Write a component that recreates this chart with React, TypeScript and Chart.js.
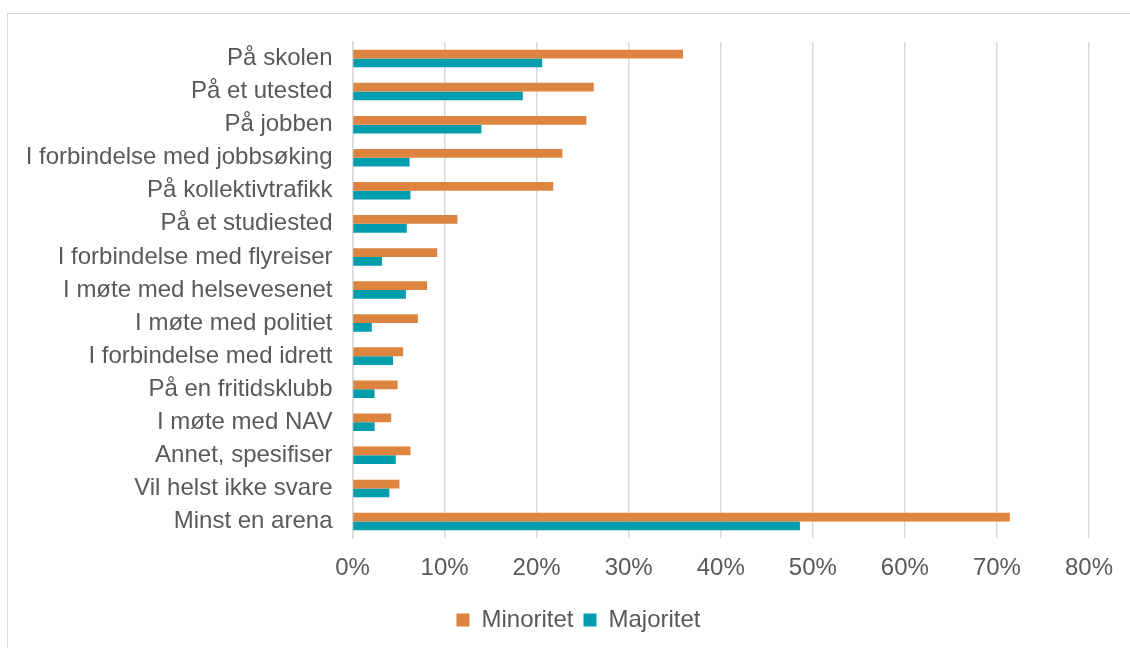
import React, { useEffect, useRef } from "react";
import { Chart, registerables } from "chart.js";

Chart.register(...registerables);

const categories = [
  "På skolen",
  "På et utested",
  "På jobben",
  "I forbindelse med jobbsøking",
  "På kollektivtrafikk",
  "På et studiested",
  "I forbindelse med flyreiser",
  "I møte med helsevesenet",
  "I møte med politiet",
  "I forbindelse med idrett",
  "På en fritidsklubb",
  "I møte med NAV",
  "Annet, spesifiser",
  "Vil helst ikke svare",
  "Minst en arena",
];

const minoritet = [35.9, 26.2, 25.4, 22.8, 21.8, 11.4, 9.2, 8.1, 7.1, 5.5, 4.9, 4.2, 6.3, 5.1, 71.4];
const majoritet = [20.6, 18.5, 14.0, 6.2, 6.3, 5.9, 3.2, 5.8, 2.1, 4.4, 2.4, 2.4, 4.7, 4.0, 48.6];

const xTicks = [0, 10, 20, 30, 40, 50, 60, 70, 80];

const ORANGE = "#DD8440";
const TEAL = "#009DAC";
const FONT = "'Liberation Sans', Arial, sans-serif";

const legendShift = {
  id: "legendShift",
  afterLayout(chart: any) {
    const lg = chart.legend;
    if (lg) {
      lg.left += 34;
      lg.right += 34;
    }
  },
};

export default function App() {
  const ref = useRef<HTMLCanvasElement | null>(null);

  useEffect(() => {
    if (!ref.current) return;
    const chart = new Chart(ref.current, {
      type: "bar",
      data: {
        labels: categories,
        datasets: [
          {
            label: "Minoritet",
            data: minoritet,
            backgroundColor: ORANGE,
            categoryPercentage: 0.53,
            barPercentage: 1.0,
          },
          {
            label: "Majoritet",
            data: majoritet,
            backgroundColor: TEAL,
            categoryPercentage: 0.53,
            barPercentage: 1.0,
          },
        ],
      },
      options: {
        indexAxis: "y",
        animation: false,
        responsive: false,
        maintainAspectRatio: false,
        layout: { padding: { top: 42, right: 41, bottom: 6, left: 0 } },
        scales: {
          x: {
            min: 0,
            max: 80,
            afterBuildTicks: (scale: any) => {
              scale.ticks = xTicks.map((v) => ({ value: v }));
            },
            afterFit: (scale: any) => {
              scale.height = 60;
            },
            ticks: {
              callback: (v: any) => v + "%",
              color: "#595959",
              font: { family: FONT, size: 24 },
              padding: 16,
              maxRotation: 0,
            },
            grid: {
              color: "#d9d9d9",
              lineWidth: 1.5,
              drawTicks: false,
              tickLength: 0,
            },
            border: { display: false },
          },
          y: {
            afterFit: (scale: any) => {
              scale.width = 352.5;
            },
            ticks: {
              color: "#595959",
              font: { family: FONT, size: 24 },
              padding: 20,
              autoSkip: false,
            },
            grid: { display: false, drawTicks: false, tickLength: 0 },
            border: { display: true, color: "#d9d9d9", width: 1.5 },
          },
        },
        plugins: {
          legend: {
            position: "bottom",
            labels: {
              color: "#595959",
              font: { family: FONT, size: 24 },
              boxWidth: 13,
              boxHeight: 13,
              padding: 10,
            },
          },
          tooltip: { enabled: false },
        },
      },
      plugins: [legendShift],
    });
    return () => chart.destroy();
  }, []);

  return (
    <div style={{ position: "absolute", left: 0, top: 0, width: 1130, height: 648, overflow: "hidden", background: "#fff" }}>
      <div
        style={{
          position: "absolute",
          left: 7,
          top: 13,
          width: 1140,
          height: 660,
          border: "1px solid #d9d9d9",
          boxSizing: "border-box",
        }}
      />
      <canvas ref={ref} width={1130} height={648} style={{ position: "absolute", left: 0, top: 0 }} />
    </div>
  );
}
